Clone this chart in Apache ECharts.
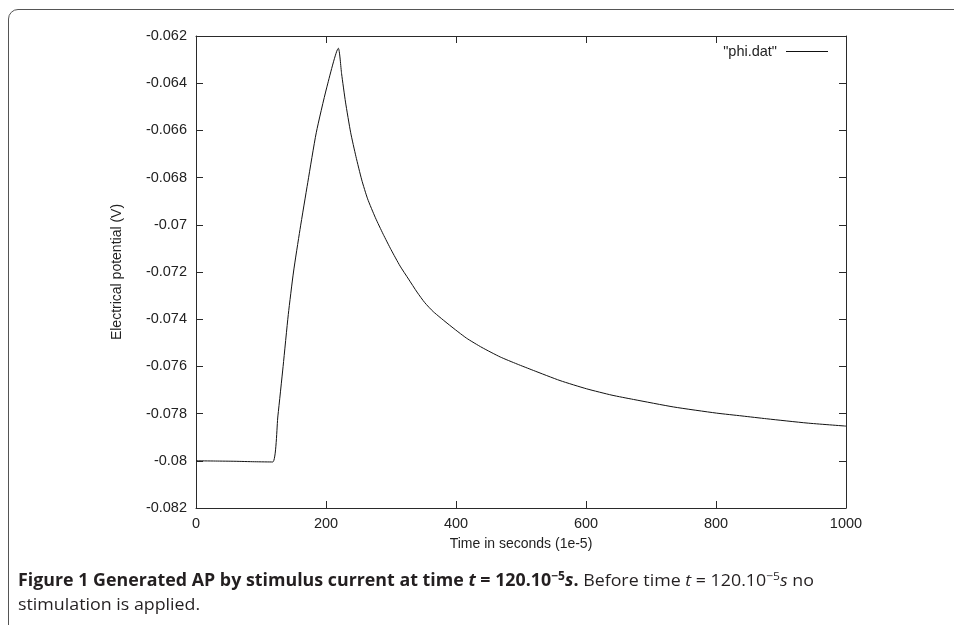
<!DOCTYPE html>
<html><head><meta charset="utf-8">
<script src="https://cdn.jsdelivr.net/npm/echarts@6/dist/echarts.min.js"></script>
<style>
html,body{margin:0;padding:0;width:954px;height:625px;overflow:hidden;background:#fff;}
#frame{position:absolute;left:8px;top:9px;width:1000px;height:700px;border:1px solid #555;border-radius:10px;box-sizing:border-box;}
#chart{position:absolute;left:0;top:0;width:954px;height:625px;}
#caption{position:absolute;left:18px;top:568px;font-family:"Open Sans",sans-serif;font-size:17px;line-height:24px;color:#231f20;white-space:nowrap;transform-origin:0 0;}
#caption sup{font-size:11.5px;line-height:0;vertical-align:6px;}
#caption span{display:inline-block;}
</style></head><body>
<div id="frame"></div>
<div id="chart"></div>
<div id="caption"><span id="l1"><b>Figure 1 Generated AP by stimulus current at time <i>t</i> = 120.10<sup>−5</sup><i>s</i>.</b> Before time <i>t</i> = 120.10<sup>−5</sup><i>s</i> no</span><br><span>stimulation is applied.</span></div>
<script>
// ---- data ----
const seriesName = '"phi.dat"';
const timeValues = [0, 30, 60, 90, 118, 126, 134, 142, 150, 160, 172, 185, 201, 219,
  224, 230, 238, 246, 255, 264, 276, 288, 300, 314, 327, 340, 352, 365, 390, 416, 440,
  468, 494, 519, 560, 601, 640, 673, 735, 801, 840, 878, 940, 1000];
const potentialValues = [-0.0800, -0.08001, -0.08002, -0.08004, -0.08005, -0.0781, -0.0760,
  -0.0738, -0.0720, -0.0702, -0.0682, -0.0661, -0.0642, -0.06252,
  -0.0636, -0.0648, -0.0661, -0.0671, -0.0681, -0.0689, -0.0697, -0.0704, -0.07105,
  -0.07175, -0.0723, -0.07285, -0.0733, -0.07368, -0.07425, -0.0748, -0.0752, -0.0756,
  -0.0759, -0.07617, -0.0766, -0.07695, -0.07722, -0.0774, -0.07772, -0.07798, -0.0781,
  -0.07822, -0.0784, -0.07853];
const xTicks = [0, 200, 400, 600, 800, 1000];
const yTicks = [-0.082, -0.08, -0.078, -0.076, -0.074, -0.072, -0.07, -0.068, -0.066, -0.064, -0.062];
const xTitle = 'Time in seconds (1e-5)';
const yTitle = 'Electrical potential (V)';

const data = timeValues.map((t, i) => [t, potentialValues[i]]);
const fmtY = v => String(parseFloat(Number(v).toFixed(3)));
const axisColor = '#2a2a2a';
const font = '"Liberation Sans", Arial, sans-serif';
const labelSize = 14.5;

const baseX = {
  type: 'value', min: xTicks[0], max: xTicks[xTicks.length - 1], interval: xTicks[1] - xTicks[0],
  axisLine: { show: true, onZero: false, lineStyle: { color: axisColor, width: 1 } },
  axisTick: { show: true, inside: true, length: 7, lineStyle: { color: axisColor } },
  splitLine: { show: false }
};
const baseY = {
  type: 'value', min: yTicks[0], max: yTicks[yTicks.length - 1], interval: 0.002,
  axisLine: { show: true, onZero: false, lineStyle: { color: axisColor, width: 1 } },
  axisTick: { show: true, inside: true, length: 7, lineStyle: { color: axisColor } },
  splitLine: { show: false }
};

const chart = echarts.init(document.getElementById('chart'), null, { renderer: 'canvas' });
chart.setOption({
  animation: false,
  backgroundColor: 'transparent',
  grid: { left: 196, right: 108, top: 36, bottom: 117, containLabel: false, outerBoundsMode: 'none' },
  legend: {
    data: [seriesName], right: 126, top: 44, padding: 0, align: 'right',
    icon: 'rect', itemWidth: 42, itemHeight: 1,
    textStyle: { fontFamily: font, fontSize: labelSize, color: '#222', padding: [0, 4, 0, 0] },
    itemStyle: { color: '#111' }
  },
  xAxis: [
    Object.assign({}, baseX, {
      position: 'bottom',
      name: xTitle, nameLocation: 'middle', nameGap: 29,
      nameTextStyle: { fontFamily: font, fontSize: 14, color: '#222' },
      axisLabel: { show: true, margin: 8, fontFamily: font, fontSize: labelSize, color: '#222',
        formatter: v => String(v) }
    }),
    Object.assign({}, baseX, { position: 'top', axisLabel: { show: false } })
  ],
  yAxis: [
    Object.assign({}, baseY, {
      position: 'left',
      name: yTitle, nameLocation: 'middle', nameGap: 72, nameRotate: 90,
      nameTextStyle: { fontFamily: font, fontSize: 14, color: '#222' },
      axisLabel: { show: true, margin: 9, fontFamily: font, fontSize: labelSize, color: '#222',
        formatter: fmtY }
    }),
    Object.assign({}, baseY, { position: 'right', axisLabel: { show: false } })
  ],
  series: [{
    name: seriesName, type: 'line', data: data, xAxisIndex: 0, yAxisIndex: 0,
    showSymbol: false, symbol: 'none', smooth: 0.2,
    lineStyle: { color: '#111', width: 1 }, itemStyle: { color: '#111' }
  }]
});

function fitCaption() {
  const cap = document.getElementById('caption');
  const l1 = document.getElementById('l1');
  cap.style.transform = 'none';
  const w = l1.getBoundingClientRect().width;
  if (w > 0) cap.style.transform = 'scaleX(' + (796 / w) + ')';
}
fitCaption();
if (document.fonts && document.fonts.ready) document.fonts.ready.then(fitCaption);
</script>
</body></html>
